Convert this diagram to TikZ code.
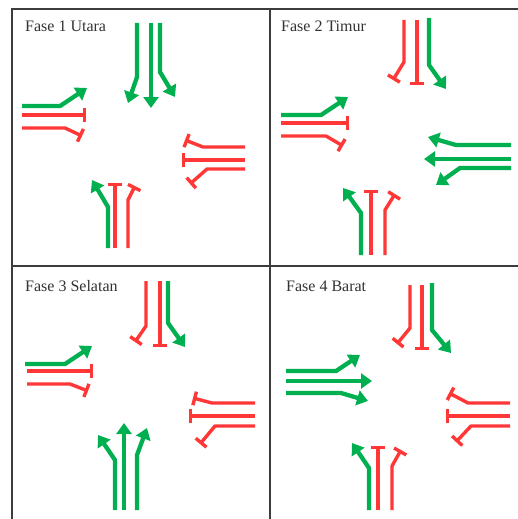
\documentclass[tikz,border=0pt]{standalone}
\usepackage{fontspec}
\setmainfont{Liberation Serif}
\usetikzlibrary{arrows.meta}
\definecolor{lgreen}{RGB}{0,176,80}
\definecolor{lred}{RGB}{255,55,55}
\definecolor{frm}{RGB}{60,60,60}
\tikzset{
  ga/.style={draw=lgreen,line width=4.3pt,line join=round,-{Triangle[length=11pt,width=15pt]}},
  rb/.style={draw=lred,line width=3.4pt,line join=round,-{Bar[width=14pt,line width=3.4pt]}},
  frame/.style={draw=frm,line width=1.4pt},
  lbl/.style={anchor=base west,inner sep=0pt,font=\fontsize{16}{18}\selectfont,text=black!80}
}
\begin{document}
\begin{tikzpicture}[x=1pt,y=-1pt]
\useasboundingbox (0,0) rectangle (518,519);
\fill[white] (0,0) rectangle (518,519);
% frame
\draw[frame] (12,519) -- (12,9) -- (518,9);
\draw[frame] (270,9) -- (270,519);
\draw[frame] (12,266) -- (518,266);
% Panel 1
\node[lbl] (t1) at (25,32) {Fase 1 Utara};
\draw[ga] (137,23) -- (137,77) -- (128,103);
\draw[ga] (151,23) -- (151,108);
\draw[ga] (160,23) -- (160,72) -- (175,97);
\draw[ga] (22,106) -- (60,106) -- (87,88);
\draw[rb] (22,115) -- (86,115);
\draw[rb] (22,128) -- (65,128) -- (82,136);
\draw[rb] (245,147) -- (203,147) -- (185,140);
\draw[rb] (245,160) -- (182,160);
\draw[rb] (245,169) -- (207,169) -- (190,184);
\draw[ga] (108,248) -- (108,207) -- (92,180);
\draw[rb] (115,248) -- (115,183);
\draw[rb] (128,248) -- (128,200) -- (135,186);
% Panel 2
\node[lbl] (t2) at (281,32) {Fase 2 Timur};
\draw[rb] (404,20) -- (404,62) -- (393,80);
\draw[rb] (417,20) -- (417,85);
\draw[ga] (429,18) -- (429,65) -- (446,89);
\draw[ga] (281,115) -- (321,115) -- (348,97);
\draw[rb] (281,123) -- (349,123);
\draw[rb] (281,136) -- (326,136) -- (343,146);
\draw[ga] (511,145) -- (456,145) -- (428,137);
\draw[ga] (511,159) -- (424,159);
\draw[ga] (511,168) -- (460,168) -- (436,185);
\draw[ga] (361,255) -- (361,213) -- (343,188);
\draw[rb] (371,255) -- (371,190);
\draw[rb] (385,255) -- (385,210) -- (395,194);
% Panel 3
\node[lbl] (t3) at (25,291) {Fase 3 Selatan};
\draw[rb] (146,281) -- (146,326) -- (135,342);
\draw[rb] (160,281) -- (160,347);
\draw[ga] (168,281) -- (168,323) -- (185,347);
\draw[ga] (25,364) -- (65,364) -- (92,346);
\draw[rb] (27,371) -- (93,371);
\draw[rb] (27,384) -- (70,384) -- (88,391);
\draw[rb] (255,403) -- (212,403) -- (193,398);
\draw[rb] (255,416) -- (189,416);
\draw[rb] (255,426) -- (215,426) -- (200,444);
\draw[ga] (115,510) -- (115,460) -- (98,435);
\draw[ga] (124,510) -- (124,423);
\draw[ga] (137,510) -- (137,455) -- (147,428);
% Panel 4
\node[lbl] (t4) at (286,291) {Fase 4 Barat};
\draw[rb] (410,285) -- (410,328) -- (397,344);
\draw[rb] (422,285) -- (422,350);
\draw[ga] (432,283) -- (432,330) -- (451,353);
\draw[ga] (286,371) -- (336,371) -- (360,355);
\draw[ga] (286,381) -- (372,381);
\draw[ga] (286,393) -- (341,393) -- (368,401);
\draw[rb] (510,403) -- (468,403) -- (449,393);
\draw[rb] (510,416) -- (446,416);
\draw[rb] (510,426) -- (471,426) -- (456,442);
\draw[ga] (369,510) -- (369,468) -- (352,443);
\draw[rb] (378,510) -- (378,446);
\draw[rb] (392,510) -- (392,466) -- (401,450);
\end{tikzpicture}
\end{document}
